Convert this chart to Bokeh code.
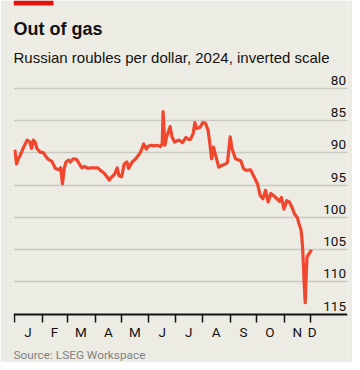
import pandas as pd
from bokeh.plotting import figure
from bokeh.models import (Range1d, LinearAxis, FixedTicker, Grid, Label,
                          BoxAnnotation, ColumnDataSource)
from bokeh.core.properties import value
from bokeh.embed import file_html
from bokeh.resources import INLINE

# ---------------- data ----------------
dates = [
    "2024-01-01", "2024-01-03", "2024-01-05", "2024-01-07", "2024-01-11", "2024-01-15",
    "2024-01-18", "2024-01-20", "2024-01-22", "2024-01-24", "2024-01-26", "2024-01-30",
    "2024-02-02", "2024-02-05", "2024-02-08", "2024-02-12", "2024-02-16", "2024-02-20",
    "2024-02-22", "2024-02-24", "2024-02-26", "2024-02-28", "2024-03-02", "2024-03-04",
    "2024-03-07", "2024-03-11", "2024-03-15", "2024-03-17", "2024-03-20", "2024-03-24",
    "2024-03-27", "2024-03-31", "2024-04-04", "2024-04-07", "2024-04-11", "2024-04-15",
    "2024-04-17", "2024-04-20", "2024-04-23", "2024-04-26", "2024-04-28", "2024-05-01",
    "2024-05-04", "2024-05-07", "2024-05-09", "2024-05-13", "2024-05-17", "2024-05-21",
    "2024-05-23", "2024-05-26", "2024-05-29", "2024-05-31", "2024-06-03", "2024-06-07",
    "2024-06-10", "2024-06-14", "2024-06-16", "2024-06-17", "2024-06-19", "2024-06-21",
    "2024-06-25", "2024-06-27", "2024-06-30", "2024-07-05", "2024-07-09", "2024-07-13",
    "2024-07-16", "2024-07-18", "2024-07-21", "2024-07-23", "2024-07-25", "2024-07-29",
    "2024-08-01", "2024-08-04", "2024-08-07", "2024-08-09", "2024-08-11", "2024-08-13",
    "2024-08-16", "2024-08-19", "2024-08-23", "2024-08-27", "2024-08-29", "2024-09-01",
    "2024-09-03", "2024-09-07", "2024-09-13", "2024-09-16", "2024-09-19", "2024-09-24",
    "2024-09-28", "2024-10-02", "2024-10-05", "2024-10-08", "2024-10-11", "2024-10-14",
    "2024-10-17", "2024-10-20", "2024-10-24", "2024-10-27", "2024-10-29", "2024-11-01",
    "2024-11-04", "2024-11-07", "2024-11-10", "2024-11-13", "2024-11-16", "2024-11-18",
    "2024-11-20", "2024-11-21", "2024-11-22", "2024-11-23", "2024-11-24", "2024-11-25",
    "2024-11-26", "2024-11-27", "2024-11-28", "2024-12-01", "2024-12-02",
]
roubles = [
    89.5, 91.7, 90.9, 90.4, 89.1, 88.0,
    88.3, 89.3, 88.0, 88.3, 89.3, 89.9,
    89.9, 90.5, 91.0, 91.3, 92.4, 92.6,
    92.3, 94.8, 92.4, 91.4, 91.1, 91.4,
    90.9, 91.0, 91.9, 92.3, 92.1, 92.4,
    92.3, 92.3, 92.3, 92.7, 93.1, 93.8,
    94.2, 93.7, 93.3, 92.3, 93.5, 93.7,
    91.7, 91.4, 92.4, 91.4, 90.9, 90.2,
    89.7, 88.6, 89.4, 89.0, 88.8, 88.9,
    88.8, 89.0, 88.6, 83.6, 88.8, 87.5,
    85.9, 87.5, 88.3, 88.0, 88.4, 87.6,
    87.9, 87.9, 87.0, 85.3, 86.2, 86.0,
    85.3, 85.4, 86.5, 88.6, 90.9, 89.1,
    90.6, 92.2, 91.9, 91.7, 91.4, 87.5,
    89.3, 90.9, 91.2, 92.4, 92.7, 92.6,
    93.7, 94.8, 96.6, 97.1, 95.8, 97.6,
    96.3, 96.6, 97.1, 97.5, 96.9, 98.7,
    97.4, 97.6, 98.4, 99.5, 100.0, 101.0,
    101.8, 102.8, 104.6, 107.5, 110.6, 113.2,
    109.5, 106.2, 105.9, 105.3, 105.0,
]
y_ticks = [80, 85, 90, 95, 100, 105, 110, 115]
month_labels = ["J", "F", "M", "A", "M", "J", "J", "A", "S", "O", "N", "D"]

title = "Out of gas"
subtitle = "Russian roubles per dollar, 2024, inverted scale"
source = "Source: LSEG Workspace"

# ---------------- derived ----------------
year_start = pd.Timestamp("2024-01-01")
dts = pd.to_datetime(dates)
days = [(d - year_start).days for d in dts]
month_starts = pd.date_range("2024-01-01", periods=12, freq="MS")
tick_days = [(m - year_start).days for m in month_starts]
label_days = []
for i, m in enumerate(month_starts):
    if i < 11:
        label_days.append(tick_days[i] + m.days_in_month // 2)
    else:
        label_days.append(days[-1] + 1)

BG = "#ecebe4"
RED = "#e3120b"
LINE = "#f0462d"
GRID = "#c9c9c1"
INK = "#121212"
FONT = "Roboto"
TFONT = "Liberation Sans"

W, H = 352, 362
ML, MR = 13, 5
FRAME_W = W - ML - MR
X0, X1 = -1.47, 376.9
PX_PER_UNIT = 6.449                 # vertical pixels per rouble
AXIS_Y = max(y_ticks)               # baseline of the chart (115)
AXIS_PX = 313.7                     # pixel row of the baseline inside the canvas
Y_BOTTOM = AXIS_Y + (H - AXIS_PX) / PX_PER_UNIT
Y_TOP = AXIS_Y - AXIS_PX / PX_PER_UNIT
PX_PER_DAY = FRAME_W / (X1 - X0)
SHIFT = 4.5                         # text baseline correction (px)

p = figure(width=W, height=H, output_backend="svg", toolbar_location=None,
           x_range=Range1d(X0, X1), y_range=Range1d(Y_BOTTOM, Y_TOP),
           x_axis_location=None, y_axis_location=None,
           min_border_left=ML, min_border_right=MR, min_border_top=0,
           min_border_bottom=0)
p.background_fill_color = BG
p.border_fill_color = BG
p.outline_line_color = None
p.xgrid.visible = False
p.ygrid.visible = False

grid = Grid(dimension=1, ticker=FixedTicker(ticks=y_ticks[:-1]),
            grid_line_color=GRID, grid_line_width=1.3)
p.add_layout(grid)

xaxis = LinearAxis(fixed_location=AXIS_Y,
                   ticker=FixedTicker(ticks=label_days, minor_ticks=tick_days),
                   major_label_overrides={d: lab for d, lab in zip(label_days, month_labels)},
                   major_tick_in=0, major_tick_out=0,
                   minor_tick_in=0, minor_tick_out=8,
                   minor_tick_line_color=INK, minor_tick_line_width=1.5,
                   axis_line_color=INK, axis_line_width=2,
                   major_label_standoff=2,
                   major_label_text_font=FONT, major_label_text_font_size="13.5px",
                   major_label_text_color=INK)
p.add_layout(xaxis, "below")

src = ColumnDataSource(dict(x=days, y=roubles))
p.line("x", "y", source=src, line_color=LINE, line_width=3.2, line_join="round")

# y tick labels sitting above gridlines on the right
p.text(x=[X1] * len(y_ticks), y=y_ticks, text=[str(v) for v in y_ticks],
       text_align="right", text_baseline="alphabetic", x_offset=-1.5,
       y_offset=-3.5 - SHIFT,
       text_font=value(FONT), text_font_size="13.5px", text_color=INK)

# red tag, titles and source (positioned from the frame corners)
p.add_layout(BoxAnnotation(left=X0, right=X0 + 40 / PX_PER_DAY,
                           top=Y_TOP, bottom=Y_TOP + 5 / PX_PER_UNIT,
                           fill_color=RED, fill_alpha=1, line_color=None))
p.add_layout(Label(x=X0, y=Y_TOP, y_offset=-33 + SHIFT, text=title,
                   text_font=TFONT, text_font_size="18px", text_font_style="bold",
                   text_color=INK, text_baseline="alphabetic"))
p.add_layout(Label(x=X0, y=Y_TOP, y_offset=-61 + SHIFT, text=subtitle,
                   text_font=TFONT, text_font_size="15px",
                   text_color=INK, text_baseline="alphabetic"))
p.add_layout(Label(x=X0, y=AXIS_Y, y_offset=-45 + SHIFT, text=source,
                   text_font=FONT, text_font_size="11.8px",
                   text_color="#808080", text_baseline="alphabetic"))

open("out.html", "w").write(file_html(p, INLINE))
